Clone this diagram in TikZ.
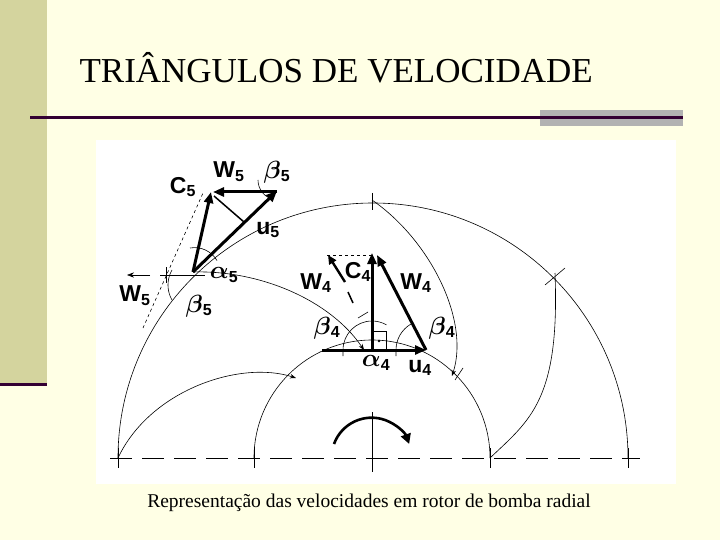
\documentclass[tikz,border=0pt]{standalone}
\usepackage{amsmath}
\usepackage{fontspec}
\setmainfont{Liberation Serif}
\newfontfamily\lab{Liberation Sans}
\usetikzlibrary{arrows.meta}
\definecolor{bg}{HTML}{FFFFE5}
\definecolor{strip}{HTML}{D4D49E}
\definecolor{plum}{HTML}{330033}
\begin{document}
\begin{tikzpicture}[x=1pt,y=-1pt,
  thin line/.style={line width=0.6pt},
  vec/.style={line width=3pt,-{Triangle[length=11pt,width=9pt]}},
  lbl/.style={font=\lab\bfseries\fontsize{23}{23}\selectfont,inner sep=0pt}]
\useasboundingbox (0,0) rectangle (720,540);
\fill[bg] (0,0) rectangle (720,540);
\fill[strip] (0,0) rectangle (47,385);
\draw[plum,line width=3pt] (0,384) -- (47,384);
\node[anchor=west,font=\fontsize{35}{35}\selectfont] (title) at (76,68) {TRIÂNGULOS DE VELOCIDADE};
\fill[gray!60] (540,110) rectangle (683,126);
\draw[plum,line width=3pt] (30,118) -- (683,118);
\fill[white] (96,140) rectangle (676,484);
\node[font=\fontsize{19.5}{20}\selectfont] (cap) at (369,503) {Representação das velocidades em rotor de bomba radial};
% rotor
\coordinate (O) at (372,458);
\draw[thin line,dash pattern=on 22pt off 10pt] (110,458) -- (640,458);
\draw[thin line] (372,412) -- (372,472);
\draw[thin line] (118,458) arc[start angle=-180,end angle=0,radius=255];
\draw[thin line] (254,458) arc[start angle=-180,end angle=0,radius=118];
\foreach \x in {118,254,490,628} \draw[thin line] (\x,448) -- (\x,468);
\draw[thin line] (372,193) -- (372,210);
% blades
\draw[thin line,-{Stealth[length=6pt]}] (372,200) .. controls (430,240) and (470,320) .. (452,376);
\draw[thin line] (490,458) .. controls (530,420) and (560,400) .. (555,273);
\draw[thin line,-{Stealth[length=6pt]}] (193,272) .. controls (260,270) and (330,300) .. (364,350);
\draw[thin line,-{Stealth[length=6pt]}] (118,458) .. controls (150,390) and (240,360) .. (296,378);
\draw[thin line] (545,285) -- (565,268);
\draw[thin line] (455,380) -- (463,368);
% rotation
\draw[line width=2.6pt,-{Triangle[length=10pt,width=10pt]}] (334,444) arc[start angle=-160,end angle=-20,radius=40];
% triangle 4
\coordinate (P4) at (372,350);
\draw[thin line,dashed] (327,255) -- (372,255);
\draw[line width=3pt] (322,350) -- (372,350);
\draw[vec] (P4) -- (426,350);
\draw[vec] (P4) -- (372,253);
\draw[vec] (426,350) -- (377,255);
\draw[line width=2.4pt,-{Triangle[length=9pt,width=8pt]}] (345,282) -- (328,255);
\draw[line width=1.5pt] (348,292) -- (353,303);
\draw[thin line] (372,331) -- (386,331) -- (386,350);
\fill (379,341) circle (1.3);
\draw[thin line] (343,356) -- (343,350) arc[start angle=-180,end angle=-60,radius=29];
\draw[thin line] (396,356) -- (396,350) arc[start angle=-180,end angle=-120,radius=30];
\draw[thin line] (358,318) -- (368,312);
\node[lbl] (c4) at (358,272) {C\textsubscript{\fontsize{16}{16}\selectfont 4}};
\node[lbl] (w4r) at (416,283) {W\textsubscript{\fontsize{16}{16}\selectfont 4}};
\node[lbl] (w4l) at (316,283) {W\textsubscript{\fontsize{16}{16}\selectfont 4}};
\node[lbl] (b4l) at (327,328) {$\boldsymbol\beta$\textsubscript{\fontsize{16}{16}\selectfont 4}};
\node[lbl] (b4r) at (442,328) {$\boldsymbol\beta$\textsubscript{\fontsize{16}{16}\selectfont 4}};
\node[lbl] (a4) at (376,363) {$\boldsymbol\alpha$\textsubscript{\fontsize{16}{16}\selectfont 4}};
\node[lbl] (u4) at (420,368) {u\textsubscript{\fontsize{16}{16}\selectfont 4}};
% triangle 5
\coordinate (P5) at (193,272);
\draw[thin line,dashed] (143,328) -- (203,193);
\draw[thin line] (160,275) -- (205,275);
\draw[thin line] (166,267) -- (166,283);
\draw[thin line,-{Stealth[length=7pt]}] (150,275) -- (127,275);
\draw[thin line] (172,300) arc[start angle=-210,end angle=-150,radius=30];
\draw[thin line] (190,248) arc[start angle=-100,end angle=-30,radius=26];
\draw[thin line] (258,180) arc[start angle=-180,end angle=-250,radius=20];
\draw[vec] (P5) -- (211,192);
\draw[vec] (P5) -- (277,191);
\draw[vec] (277,192) -- (213,192);
\draw[line width=1.5pt] (214,196) -- (244,222);
\node[lbl] (c5) at (183,187) {C\textsubscript{\fontsize{16}{16}\selectfont 5}};
\node[lbl] (w5t) at (229,172) {W\textsubscript{\fontsize{16}{16}\selectfont 5}};
\node[lbl] (b5t) at (277,172) {$\boldsymbol\beta$\textsubscript{\fontsize{16}{16}\selectfont 5}};
\node[lbl] (u5) at (268,230) {u\textsubscript{\fontsize{16}{16}\selectfont 5}};
\node[lbl] (a5) at (224,275) {$\boldsymbol\alpha$\textsubscript{\fontsize{16}{16}\selectfont 5}};
\node[lbl] (w5l) at (135,296) {W\textsubscript{\fontsize{16}{16}\selectfont 5}};
\node[lbl] (b5l) at (199,306) {$\boldsymbol\beta$\textsubscript{\fontsize{16}{16}\selectfont 5}};
\end{tikzpicture}
\end{document}
